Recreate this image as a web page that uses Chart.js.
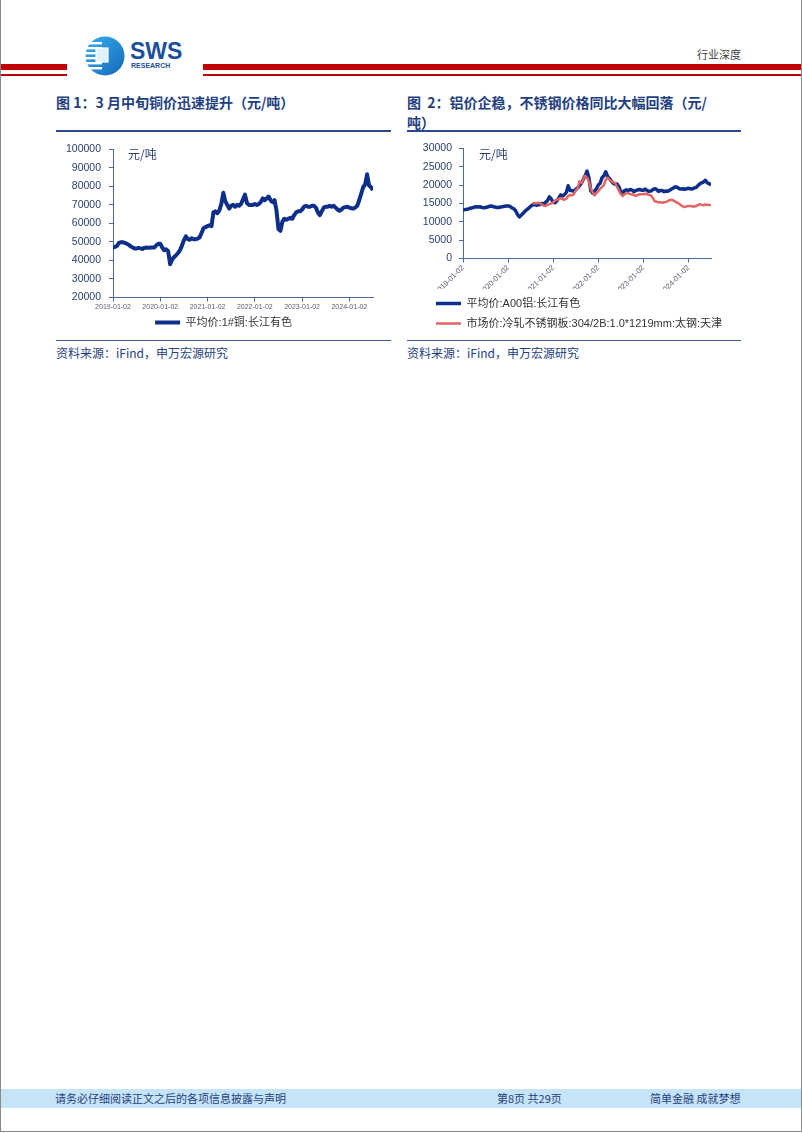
<!DOCTYPE html>
<html lang="zh-CN">
<head>
<meta charset="utf-8">
<title>铜价 / 铝价 / 不锈钢价格</title>
<script src="https://cdn.jsdelivr.net/npm/chart.js@4.4.1/dist/chart.umd.min.js"></script>
<style>
  html, body { margin: 0; padding: 0; background: #fff; }
  .page {
    position: relative; box-sizing: border-box;
    width: 802px; height: 1132px;
    border-left: 1px solid #8a8a8a; border-right: 1px solid #8a8a8a; border-bottom: 1px solid #8a8a8a;
    font-family: "Noto Sans CJK SC", "Noto Sans", sans-serif;
    overflow: hidden;
  }
  .abs { position: absolute; }
  .red { background: #c00000; }
  .hdr-tag { left: 696px; top: 46px; font-size: 11px; color: #404040; }
  .fig-title { top: 92px; font-size: 14px; line-height: 20px; font-weight: bold; color: #1f3f7f; }
  .rule-top { top: 130px; height: 2px; background: #2c4a8a; }
  .rule-bot { top: 340px; height: 1px; background: #3a5898; }
  .source { top: 345px; font-size: 12px; line-height: 16px; color: #1f3f7f; }
  .chart-box { top: 135px; }
  .unit { font-size: 12px; color: #2a3f6e; }
  .footer {
    left: 0; top: 1089px; width: 800px; height: 19px; background: #c6e4f7;
    font-size: 11px; line-height: 19px; color: #1f3f7f;
  }
  .footer span { position: absolute; top: 0; }
</style>
</head>
<body>
<div class="page">

  <!-- header -->
  <div class="abs red" style="left:0;top:64px;width:66px;height:6px"></div>
  <div class="abs red" style="left:0;top:74px;width:66px;height:1.5px"></div>
  <div class="abs red" style="left:202px;top:64px;width:600px;height:6px"></div>
  <div class="abs red" style="left:202px;top:74px;width:600px;height:1.5px"></div>

  <svg class="abs" style="left:82px;top:33px" width="112" height="46" viewBox="0 0 112 46">
    <defs>
      <linearGradient id="lg" x1="0" y1="0" x2="1" y2="1">
        <stop offset="0" stop-color="#3ab0ee"/>
        <stop offset="1" stop-color="#1466b8"/>
      </linearGradient>
    </defs>
    <circle cx="22" cy="23" r="19.5" fill="url(#lg)"/>
    <rect x="2" y="9" width="17" height="2.4" fill="#fff"/>
    <rect x="1" y="14" width="18" height="2.4" fill="#fff"/>
    <rect x="1" y="19" width="18" height="2.4" fill="#fff"/>
    <rect x="1" y="24" width="18" height="2.4" fill="#fff"/>
    <rect x="1" y="29" width="18" height="2.4" fill="#fff"/>
    <rect x="2" y="34" width="17" height="2.4" fill="#fff"/>
    <rect x="13" y="15" width="12" height="14" fill="#dff1fb" stroke="#fff" stroke-width="1.2"/>
    <text x="47" y="26" font-family="Liberation Sans, Arial, sans-serif" font-weight="bold" font-size="23" fill="#1b4f9c">SWS</text>
    <text x="48" y="35" font-family="Liberation Sans, Arial, sans-serif" font-weight="bold" font-size="7" fill="#1b4f9c">RESEARCH</text>
  </svg>

  <div class="abs hdr-tag">行业深度</div>

  <!-- figure 1 -->
  <div class="abs fig-title" style="left:55px">图 1：3 月中旬铜价迅速提升（元/吨）</div>
  <div class="abs rule-top" style="left:55px;width:335px"></div>
  <div class="abs chart-box" style="left:55px;width:335px;height:203px"><canvas id="copperChart"></canvas></div>
  <div class="abs unit" style="left:127px;top:145px">元/吨</div>
  <div class="abs rule-bot" style="left:55px;width:335px"></div>
  <div class="abs source" style="left:55px">资料来源：iFind，申万宏源研究</div>

  <!-- figure 2 -->
  <div class="abs fig-title" style="left:406px">图&nbsp;&nbsp;2：铝价企稳，不锈钢价格同比大幅回落（元/<br>吨）</div>
  <div class="abs rule-top" style="left:406px;width:334px"></div>
  <div class="abs chart-box" style="left:406px;width:334px;height:204px"><canvas id="alChart"></canvas></div>
  <div class="abs unit" style="left:478px;top:145px">元/吨</div>
  <div class="abs rule-bot" style="left:406px;width:334px"></div>
  <div class="abs source" style="left:406px">资料来源：iFind，申万宏源研究</div>

  <!-- footer -->
  <div class="abs footer">
    <span style="left:54px">请务必仔细阅读正文之后的各项信息披露与声明</span>
    <span style="left:496px">第8页 共29页</span>
    <span style="left:649px">简单金融 成就梦想</span>
  </div>
</div>

<script>
// 半月一个点，2019-01 起
const perYear = 24
const yearLabels = ['2019-01-02', '2020-01-02', '2021-01-02', '2022-01-02', '2023-01-02', '2024-01-02']

// 平均价:1#铜:长江有色
const copper2019 = [47000, 47300, 47800, 49500, 49800, 49800, 49500, 49000, 48500, 47600, 47000, 46500, 46500, 46800, 46500, 46200, 46800, 47000, 46800, 47000, 47000, 47000, 48200, 49000]
const copper2020 = [49000, 47000, 45500, 46000, 45000, 38000, 40500, 41800, 42800, 44000, 45500, 48000, 51000, 53000, 51500, 51200, 52000, 51500, 51500, 51800, 52500, 55000, 57500, 58000]
const copper2021 = [58500, 59000, 58500, 66000, 66500, 65500, 67000, 70500, 76500, 72000, 70000, 68000, 69500, 70000, 69000, 70000, 69500, 70500, 73000, 75500, 71000, 70000, 70000, 70000]
const copper2022 = [70500, 70000, 70500, 71500, 73500, 72500, 73500, 74500, 72500, 71500, 72500, 67000, 57000, 56000, 61000, 62500, 62000, 62500, 63000, 62500, 64500, 66000, 66500, 66500]
const copper2023 = [67500, 69000, 69500, 69000, 69000, 69500, 69500, 68500, 66000, 64500, 66500, 68500, 69000, 69000, 69500, 69000, 69500, 68500, 67500, 66800, 67500, 68500, 68800, 69000]
const copper2024 = [68500, 68200, 68000, 68600, 69500, 72500, 76000, 79500, 81000, 86500, 80500, 79500, 78000]

// 平均价:A00铝:长江有色
const alu2019 = [13200, 13300, 13400, 13500, 13700, 13800, 14000, 14100, 14000, 14100, 13900, 13800, 13900, 14000, 14200, 14300, 14100, 14000, 13900, 13900, 14000, 14100, 14200, 14300]
const alu2020 = [14300, 14200, 13800, 13600, 13000, 12000, 11300, 11800, 12300, 12900, 13300, 13700, 14200, 14600, 14700, 14500, 14600, 14700, 15000, 14800, 15300, 15800, 16800, 16200]
const alu2021 = [15300, 15200, 15700, 16500, 17300, 17000, 17400, 18000, 19800, 18500, 18500, 18300, 18800, 19200, 19800, 20500, 21500, 22500, 23800, 22000, 18500, 17800, 18300, 19000]
const alu2022 = [20000, 20500, 22000, 22500, 23600, 22300, 21800, 21000, 20500, 20200, 20300, 19500, 18000, 18000, 18500, 18700, 18500, 18800, 18600, 18200, 18500, 18700, 18800, 18600]
const alu2023 = [18600, 18900, 18500, 18300, 18400, 18700, 19000, 18800, 18300, 18500, 18500, 18200, 18400, 18300, 18600, 18900, 19200, 19500, 19400, 19000, 18900, 19000, 18800, 19000]
const alu2024 = [19100, 19000, 18900, 19200, 19300, 19800, 20300, 20600, 20800, 21300, 20600, 20400, 20000]

// 市场价:冷轧不锈钢板:304/2B:1.0*1219mm:太钢:天津
const steel2020 = [null, null, null, null, null, null, null, null, null, null, null, null, null, 15000, 15100, 15000, 15200, 15000, 14700, 14400, 14300, 14600, 14800, 15000]
const steel2021 = [15300, 15800, 16000, 16200, 16400, 16200, 16000, 16300, 17000, 17300, 17200, 17500, 18500, 19000, 21000, 20500, 21500, 22500, 22000, 21000, 19000, 18000, 17200, 17800]
const steel2022 = [18300, 19000, 19500, 20000, 21500, 22000, 21500, 21000, 20800, 20500, 19500, 18500, 17500, 17000, 17500, 17800, 17800, 17500, 17500, 17300, 17000, 17300, 17500, 17500]
const steel2023 = [17500, 17600, 17500, 17300, 17200, 16500, 15600, 15500, 15300, 15300, 15200, 15300, 15400, 15600, 15900, 16000, 15800, 15500, 15200, 14900, 14500, 14200, 14000, 14200]
const steel2024 = [14300, 14300, 14200, 14100, 14300, 14500, 14800, 14600, 14500, 14700, 14600, 14600, 14500]
const steel2019 = new Array(24).fill(null)

const copper = [].concat(copper2019, copper2020, copper2021, copper2022, copper2023, copper2024)
const aluminium = [].concat(alu2019, alu2020, alu2021, alu2022, alu2023, alu2024)
const steel = [].concat(steel2019, steel2020, steel2021, steel2022, steel2023, steel2024)

const axisColor = '#4a68aa'
const tickColor = '#2a3f6e'
const latin = "'Liberation Sans', Arial, 'Noto Sans CJK SC', sans-serif"

function toPoints(values) {
  return values.map(function (v, i) { return { x: i / perYear, y: v } })
}

function xAxis(rotated, height) {
  return {
    type: 'linear', min: 0, max: (copper.length - 1) / perYear,
    grid: { drawOnChartArea: false, tickLength: 4, color: axisColor },
    border: { color: axisColor },
    ticks: {
      stepSize: 1, includeBounds: false, autoSkip: false,
      minRotation: rotated ? 45 : 0, maxRotation: rotated ? 45 : 0,
      padding: 1, color: '#5a6070', font: { family: latin, size: rotated ? 7.5 : 7 },
      callback: function (v) { return yearLabels[v] }
    },
    afterFit: function (scale) { scale.height = height }
  }
}

function yAxis(min, max, step, width, pad) {
  return {
    min: min, max: max,
    grid: { drawOnChartArea: false, tickLength: 4, color: axisColor },
    border: { color: axisColor },
    ticks: {
      stepSize: step, padding: pad, color: tickColor, font: { family: latin, size: 10.5 },
      callback: function (v) { return String(v) }
    },
    afterFit: function (scale) { scale.width = width }
  }
}

// 右侧留白，用一根不显示的轴占位，图例仍可用满宽度
function spacer(width) {
  return {
    position: 'right', display: true,
    grid: { display: false, drawTicks: false }, border: { display: false },
    ticks: { display: false },
    afterFit: function (scale) { scale.width = width }
  }
}

function legend(align, padding) {
  return {
    position: 'bottom', align: align,
    labels: {
      usePointStyle: true, pointStyle: 'line', pointStyleWidth: 25,
      padding: padding, color: '#333', font: { family: latin, size: 11 },
      sort: function (a, b) { return a.datasetIndex - b.datasetIndex }
    }
  }
}

// 图2的图例整体右移
const legendShift = {
  id: 'legendShift',
  afterLayout: function (chart, args, opts) {
    chart.legend.left += opts.dx
    chart.legend.right += opts.dx
  }
}

new Chart(document.getElementById('copperChart'), {
  type: 'line',
  data: {
    datasets: [{
      label: '平均价:1#铜:长江有色',
      data: toPoints(copper),
      borderColor: '#0d2f8a', borderWidth: 4, pointRadius: 0,
      borderJoinStyle: 'round', tension: 0
    }]
  },
  options: {
    responsive: true, maintainAspectRatio: false, animation: false,
    layout: { padding: { top: 12, left: 0, right: 0, bottom: 0 } },
    scales: {
      x: xAxis(false, 13.5),
      y: yAxis(20000, 100000, 10000, 57, 8),
      pad: spacer(18)
    },
    plugins: { legend: legend('center', 6), tooltip: { enabled: false } }
  }
})

new Chart(document.getElementById('alChart'), {
  type: 'line',
  data: {
    datasets: [{
      label: '平均价:A00铝:长江有色',
      data: toPoints(aluminium),
      borderColor: '#0d2f8a', borderWidth: 3.5, pointRadius: 0,
      borderJoinStyle: 'round', tension: 0, order: 2
    }, {
      label: '市场价:冷轧不锈钢板:304/2B:1.0*1219mm:太钢:天津',
      data: toPoints(steel),
      borderColor: '#e26464', borderWidth: 2.5, pointRadius: 0,
      borderJoinStyle: 'round', tension: 0, order: 1
    }]
  },
  plugins: [legendShift],
  options: {
    responsive: true, maintainAspectRatio: false, animation: false,
    layout: { padding: { top: 12, left: 0, right: 0, bottom: 0 } },
    scales: {
      x: xAxis(true, 30.5),
      y: yAxis(0, 30000, 5000, 56, 7),
      pad: spacer(30)
    },
    plugins: {
      legend: legend('start', 9),
      legendShift: { dx: 20 },
      tooltip: { enabled: false }
    }
  }
})
</script>
</body>
</html>
